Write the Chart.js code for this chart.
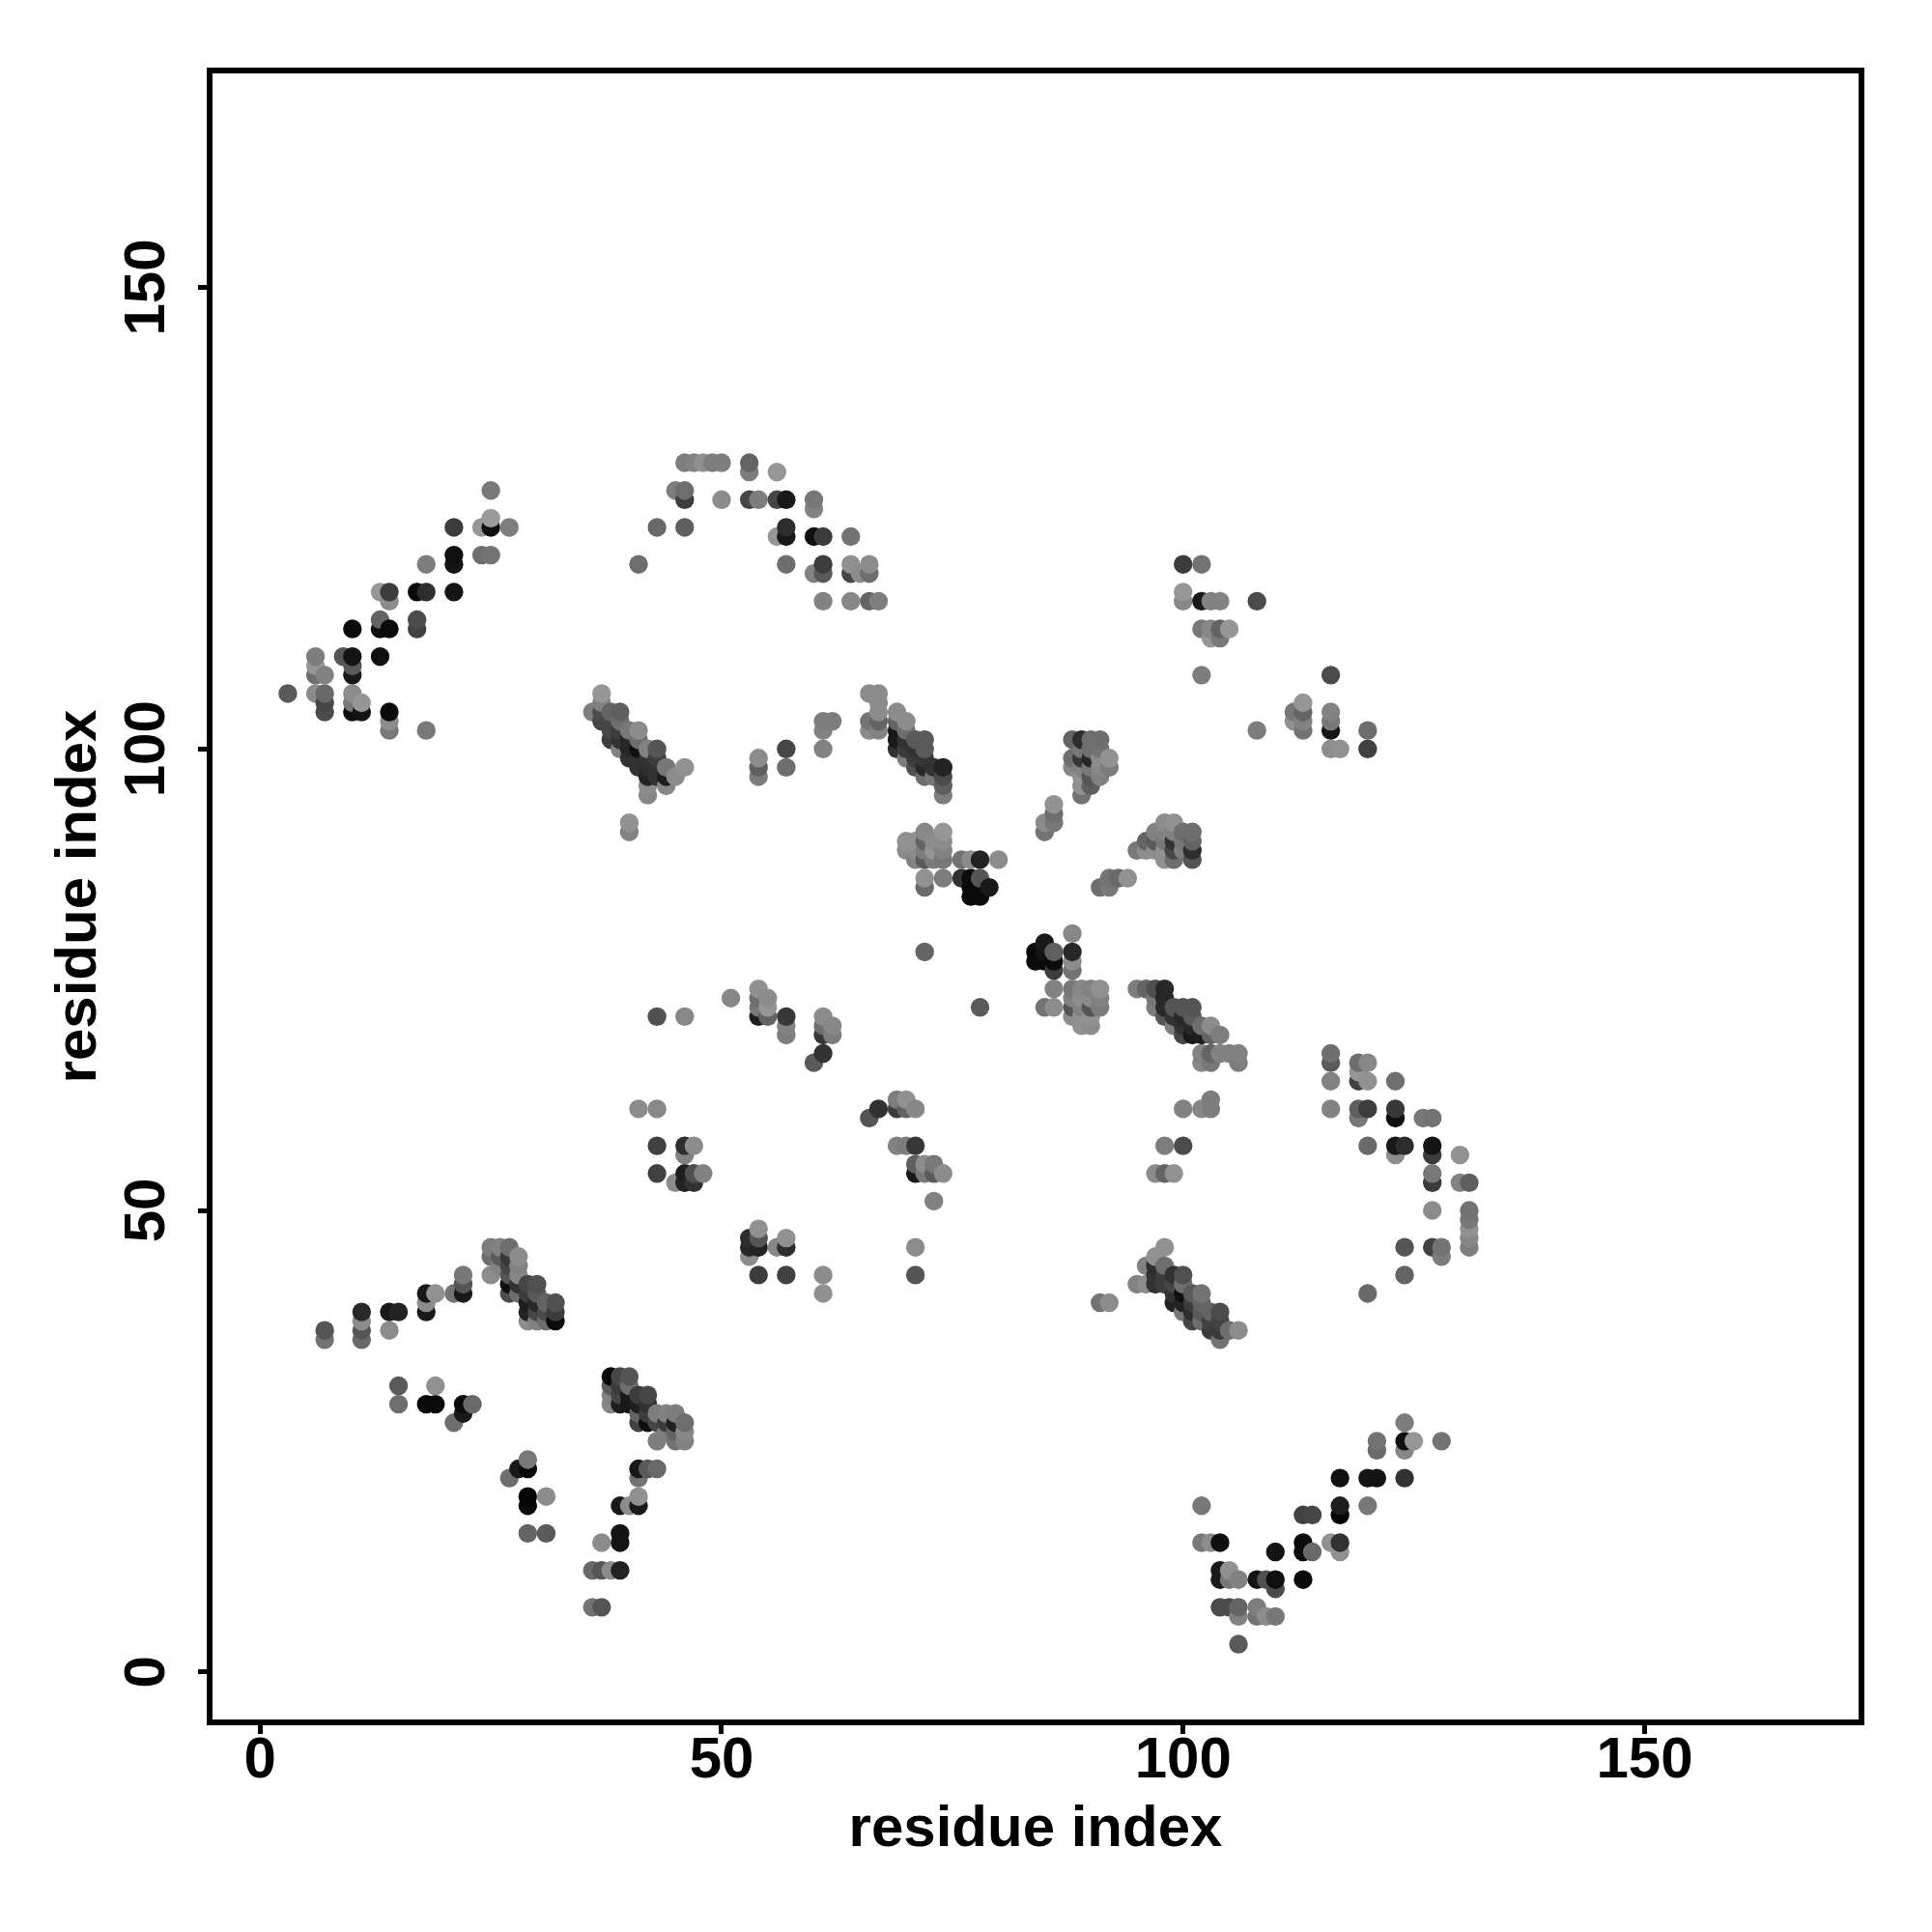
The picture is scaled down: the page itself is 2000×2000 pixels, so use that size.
<!DOCTYPE html>
<html>
<head>
<meta charset="utf-8">
<title>residue contacts</title>
<script src="https://cdn.jsdelivr.net/npm/chart.js@4/dist/chart.umd.min.js"></script>
<style>
html, body { margin: 0; padding: 0; background: #fff; }
#wrap { width: 2000px; height: 2000px; }
</style>
</head>
<body>
<div id="wrap"><canvas id="contact-map" width="2000" height="2000"></canvas></div>
<script>
// each contact: [residue i, residue j, grey level]
var armUpperLeft = [[25,128,120],[24,124,150],[25,124,15],[25,125,155],[21,124,60],[27,124,125],[21,120,20],[21,121,15],[24,121,110],[25,121,115],[18,120,125],[14,116,140],[13,117,150],[14,117,60],[17,117,10],[18,117,45],[21,117,20],[13,113,15],[13,114,100],[17,113,65],[17,114,75],[10,113,10],[14,113,10],[9,110,85],[10,108,25],[10,109,90],[10,110,20],[13,110,15],[6,108,110],[6,109,150],[6,110,125],[7,108,130],[3,106,90],[6,106,140],[7,104,75],[7,105,70],[7,106,105],[10,104,15],[11,104,20],[10,105,120],[10,106,140],[11,105,150],[14,102,120],[14,103,140],[14,104,10],[18,102,120]];
var archTop = [[46,131,125],[47,131,130],[48,131,145],[49,131,125],[50,131,125],[53,130,125],[53,131,100],[56,130,150],[45,128,125],[46,127,60],[46,128,110],[50,127,140],[53,127,70],[54,127,125],[56,127,70],[57,127,25],[60,126,130],[60,127,120],[43,124,105],[46,124,95],[56,123,150],[57,123,25],[57,124,45],[60,123,15],[61,123,60],[64,123,115],[41,120,110],[57,120,110],[60,119,130],[61,119,90],[61,120,60],[64,119,70],[65,119,140],[66,119,110],[64,120,145],[66,120,140],[61,116,130],[64,116,135],[66,116,100],[67,116,125]];
var bandA = [[37,105,130],[37,106,150],[36,104,125],[37,104,75],[37,103,70],[38,103,70],[38,102,70],[38,101,60],[39,100,130],[39,101,50],[39,102,60],[38,104,100],[39,103,110],[39,104,95],[40,99,50],[40,100,40],[40,101,40],[40,102,120],[41,98,50],[41,99,50],[41,100,15],[41,101,110],[41,102,140],[42,95,135],[42,96,140],[42,97,35],[42,98,45],[42,99,50],[42,100,130],[43,97,50],[43,98,50],[43,99,60],[43,100,85],[44,96,135],[44,97,30],[44,98,120],[45,97,140],[46,98,145]];
var patchMid = [[40,91,130],[40,92,145],[54,97,125],[54,98,95],[54,99,140],[57,98,110],[57,100,70],[61,100,130],[61,102,130],[61,103,125],[62,103,125],[66,102,140],[66,103,115],[66,106,140],[67,102,130],[67,103,100],[67,104,140],[67,105,140],[67,106,140]];
var bandB = [[69,100,50],[69,101,25],[69,102,25],[69,103,100],[69,104,140],[70,99,125],[70,100,60],[70,101,50],[70,102,110],[70,103,140],[71,98,80],[71,99,60],[71,100,50],[71,101,90],[72,97,110],[72,98,40],[72,99,55],[72,100,90],[72,101,90],[73,97,120],[73,98,50],[74,95,125],[74,96,95],[74,97,75],[74,98,35]];
var clusterCentre = [[70,89,140],[70,90,145],[71,88,130],[71,89,140],[71,90,145],[72,85,105],[72,86,145],[72,88,90],[72,89,125],[72,90,100],[72,91,135],[73,88,125],[73,89,150],[73,90,140],[74,86,125],[74,88,120],[74,89,130],[74,90,140],[74,91,150],[76,88,115],[77,88,140],[78,88,35],[80,88,140],[76,86,50],[77,84,10],[77,85,10],[77,86,10],[78,84,10],[78,85,10],[78,86,85],[79,85,25]];
var clusterRight = [[85,91,115],[85,92,140],[86,92,120],[86,93,110],[86,94,145],[88,101,100],[89,101,45],[90,101,110],[91,101,110],[89,95,115],[89,96,145],[88,98,135],[88,99,110],[89,97,145],[89,98,130],[89,99,55],[89,100,120],[90,96,95],[90,97,85],[90,98,120],[90,99,40],[90,100,110],[91,97,130],[91,98,135],[91,99,140],[91,100,115],[92,98,125],[92,99,145]];
var patchUpper = [[100,120,60],[102,120,115],[100,116,135],[100,117,150],[102,116,25],[103,116,130],[104,116,130],[108,116,75],[102,113,120],[103,112,150],[103,113,135],[104,112,120],[104,113,100],[105,113,150],[102,108,125],[116,108,75],[112,103,145],[112,104,120],[113,102,115],[113,103,130],[113,104,100],[113,105,150],[116,102,20],[116,103,120],[116,104,130],[108,102,125],[120,102,110],[116,100,140],[117,100,145],[120,100,65]];
var clusterFan = [[91,85,110],[92,85,120],[92,86,115],[93,86,105],[94,86,145],[95,89,120],[96,89,140],[96,90,100],[97,89,140],[97,90,90],[97,91,130],[98,88,145],[98,89,145],[98,90,120],[98,91,130],[98,92,140],[99,88,110],[99,89,70],[99,90,50],[99,91,130],[99,92,145],[100,89,125],[100,90,120],[100,91,110],[101,88,85],[101,89,45],[101,90,100],[101,91,110]];
var patchLower = [[72,78,100],[78,72,90],[43,71,80],[46,71,135],[51,73,135],[54,71,30],[54,72,120],[54,73,110],[54,74,145],[55,71,100],[55,72,150],[55,73,140],[57,69,125],[57,70,130],[57,71,55],[61,69,55],[61,70,110],[61,71,140],[62,69,125],[62,70,135],[60,66,90],[61,67,50],[41,61,140],[43,61,135],[43,57,65],[46,56,130],[46,57,45],[47,57,140],[43,54,65],[45,53,140],[46,53,35],[47,53,50],[46,54,30],[47,54,80],[48,54,130],[66,60,85],[67,61,50],[69,61,60],[70,61,100],[69,62,125],[70,62,145],[71,61,135],[69,57,130],[70,57,125],[71,57,55],[71,54,25],[71,55,95],[72,54,120],[72,55,140],[73,54,90],[73,55,120],[74,54,140],[73,51,130],[53,45,140],[53,46,40],[53,47,45],[54,46,35],[54,47,85],[54,48,145],[56,46,135],[57,46,45],[57,47,145],[54,43,60],[57,43,65],[61,41,145],[61,43,140],[71,46,140],[71,43,85]];
var clusterNearDiag = [[88,76,115],[88,77,140],[88,78,40],[88,80,135],[86,76,60],[84,77,10],[85,77,10],[86,77,10],[84,78,10],[85,78,20],[85,79,25],[86,78,95],[86,74,130],[88,74,120],[89,74,135],[90,74,130],[91,74,145],[88,73,130],[89,73,140],[90,73,140],[91,73,130],[85,72,115],[86,72,140],[88,71,140],[88,72,85],[89,70,145],[89,71,145],[89,72,130],[90,70,140],[90,71,145],[90,72,85],[91,72,125]];
var bandC = [[95,74,125],[96,74,100],[97,72,125],[97,73,120],[97,74,80],[98,71,85],[98,72,40],[98,73,40],[98,74,40],[99,70,125],[99,71,50],[99,72,85],[100,69,70],[100,70,50],[100,71,40],[100,72,85],[101,69,25],[101,70,40],[101,71,90],[101,72,85],[102,69,30],[102,70,110],[103,69,100],[103,70,140],[104,69,125],[102,66,135],[102,67,130],[103,66,120],[103,67,100],[104,67,130],[105,67,130],[106,66,125],[106,67,130],[100,61,130],[102,61,135],[103,61,125],[103,62,125],[98,57,125],[100,57,75],[97,54,140],[98,54,100],[99,54,145]];
var arcRight = [[116,66,90],[116,67,110],[116,64,130],[116,61,130],[119,64,65],[119,65,150],[119,66,110],[120,64,145],[120,66,135],[123,64,110],[119,60,120],[119,61,95],[120,61,60],[123,60,15],[123,61,55],[126,60,120],[127,60,115],[120,57,105],[123,56,140],[123,57,25],[124,57,45],[127,56,60],[127,57,20],[130,56,145],[127,53,60],[127,54,120],[130,53,130],[131,53,95],[127,50,140],[131,46,125],[131,47,135],[131,48,145],[131,49,120],[131,50,115],[124,46,85],[127,46,65],[128,45,125],[128,46,115],[124,43,100],[120,41,105]];
var bandD = [[91,40,115],[92,40,140],[98,46,145],[97,45,145],[96,44,130],[95,42,130],[96,42,140],[97,42,50],[97,43,50],[97,44,45],[98,42,60],[98,43,60],[98,44,110],[99,40,35],[99,41,50],[99,42,70],[99,43,50],[100,39,120],[100,40,35],[100,41,15],[100,42,110],[100,43,80],[101,38,70],[101,39,45],[101,40,60],[101,41,90],[102,38,110],[102,39,90],[102,40,100],[102,41,115],[103,37,60],[103,38,65],[103,39,100],[104,36,115],[104,37,60],[104,38,65],[104,39,75],[105,37,110],[106,37,140]];
var armLowerLeft = [[7,36,115],[7,37,85],[11,36,105],[11,37,85],[11,38,140],[11,39,40],[14,39,25],[15,39,35],[14,37,140],[18,39,25],[18,40,140],[18,41,25],[19,41,145],[21,41,115],[22,41,25],[22,42,85],[22,43,120],[25,43,140],[25,45,110],[25,46,125],[26,44,130],[26,45,90],[26,46,130],[27,41,75],[27,42,15],[27,43,85],[27,44,70],[27,45,55],[27,46,110],[28,41,110],[28,42,50],[28,43,135],[28,44,130],[28,45,140],[29,38,140],[29,39,35],[29,40,30],[29,41,60],[29,42,70],[30,38,130],[30,39,70],[30,40,40],[30,41,90],[30,42,80],[31,38,110],[31,39,75],[31,40,100],[32,38,10],[32,39,60],[32,40,80]];
var patchLowLeft = [[15,29,110],[15,31,90],[18,29,10],[19,29,10],[19,31,145],[21,27,110],[22,28,25],[22,29,10],[23,29,105],[27,21,110],[28,22,25],[29,22,10],[29,23,120],[29,18,10],[29,19,5],[31,19,140],[29,15,100],[31,15,90]];
var bandE = [[38,29,135],[38,30,130],[38,31,90],[38,32,10],[39,29,30],[39,30,70],[39,31,60],[39,32,70],[40,29,25],[40,30,25],[40,31,110],[40,32,85],[41,27,65],[41,28,100],[41,29,30],[41,30,60],[42,27,15],[42,28,60],[42,29,50],[42,30,70],[43,25,125],[43,27,70],[43,28,125],[44,26,125],[44,27,60],[44,28,130],[45,25,115],[45,26,100],[45,27,30],[45,28,125],[46,25,130],[46,26,135],[46,27,110],[41,21,115],[41,22,25],[42,22,90],[43,22,105],[39,18,25],[40,18,140],[41,18,25],[41,19,145],[39,14,20],[39,15,20],[37,14,140],[36,11,105],[37,11,85],[38,11,140],[39,11,35],[36,7,115],[37,7,85]];
var armLowerRight = [[124,27,125],[121,24,105],[121,25,115],[124,24,135],[124,25,15],[125,25,150],[128,25,115],[117,21,15],[120,21,20],[121,21,20],[124,21,50],[117,17,5],[117,18,30],[120,18,120],[102,18,120],[113,17,65],[114,17,70],[113,13,10],[113,14,10],[114,13,105],[117,13,145],[116,14,145],[117,14,50],[110,13,20],[110,9,75],[110,10,15],[113,10,10],[108,10,20],[109,10,80],[102,14,120],[103,14,140],[104,14,15],[104,10,25],[104,11,25],[105,11,145],[105,10,120],[106,10,130],[104,7,75],[105,7,75],[106,6,130],[106,7,100],[108,6,115],[108,7,125],[109,6,140],[110,6,120],[106,3,90]];

var tickValues = [0, 50, 100, 150];
var axisName = "residue index";

// the picture paints by i, then j: later points sit on top
var contacts = [].concat(armUpperLeft, archTop, bandA, patchMid, bandB, clusterCentre, clusterRight, patchUpper, clusterFan, patchLower, clusterNearDiag, bandC, arcRight, bandD, armLowerLeft, patchLowLeft, bandE, armLowerRight);
contacts.sort(function(a, b) { return a[0] - b[0] || a[1] - b[1]; });

var boldFont = { family: "'Liberation Sans'", size: 60, weight: "bold" };

function setTicks(scale) {
	scale.ticks = tickValues.map(function(v) { return { value: v }; });
}

// R style box + rotated y tick labels
var frameAndLabels = {
	id: "frameAndLabels",
	afterDraw: function(chart) {
		var c = chart.ctx, a = chart.chartArea, y = chart.scales.y;
		c.save();
		c.strokeStyle = "#000";
		c.lineWidth = 6;
		c.strokeRect(a.left, a.top, a.right - a.left, a.bottom - a.top);
		c.fillStyle = "#000";
		c.font = "bold 60px 'Liberation Sans'";
		c.textAlign = "center";
		c.textBaseline = "alphabetic";
		tickValues.forEach(function(v) {
			c.save();
			c.translate(170, y.getPixelForValue(v));
			c.rotate(-Math.PI / 2);
			c.fillText(String(v), 0, 0);
			c.restore();
		});
		c.restore();
	}
};

window.myChart = new Chart(document.getElementById("contact-map"), {
	type: "scatter",
	data: {
		datasets: [{
			data: contacts.map(function(p) { return { x: p[0], y: p[1] }; }),
			backgroundColor: contacts.map(function(p) { return "rgb(" + p[2] + "," + p[2] + "," + p[2] + ")"; }),
			pointRadius: 9.7,
			pointBorderWidth: 0,
			pointHoverRadius: 9.7
		}]
	},
	options: {
		responsive: false,
		animation: false,
		layout: { padding: { top: 73, right: 73, left: 0, bottom: 0 } },
		plugins: { legend: { display: false }, tooltip: { enabled: false } },
		scales: {
			x: {
				type: "linear",
				min: -5.47,
				max: 173.5,
				afterBuildTicks: setTicks,
				afterFit: function(s) { s.height = 217; },
				grid: { drawOnChartArea: false, color: "#000", tickLength: 12, tickWidth: 5 },
				border: { display: false },
				ticks: { color: "#000", font: boldFont, padding: -8, maxRotation: 0, autoSkip: false },
				title: { display: true, text: axisName, color: "#000", font: boldFont, padding: { top: 0, bottom: 70 } }
			},
			y: {
				type: "linear",
				min: -5.47,
				max: 173.5,
				afterBuildTicks: setTicks,
				afterFit: function(s) { s.width = 217; },
				grid: { drawOnChartArea: false, color: "#000", tickLength: 12, tickWidth: 5 },
				border: { display: false },
				ticks: { callback: function() { return ""; } },
				title: { display: true, text: axisName, color: "#000", font: boldFont, padding: { top: 46, bottom: 0 } }
			}
		}
	},
	plugins: [frameAndLabels]
});
</script>
</body>
</html>
